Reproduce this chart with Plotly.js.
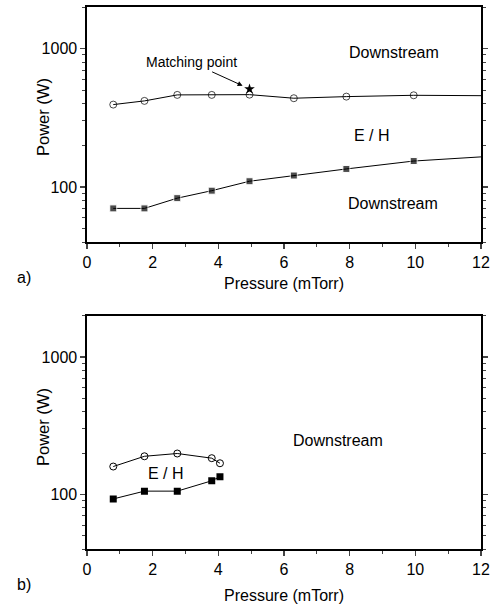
<!DOCTYPE html>
<html><head><meta charset="utf-8">
<script src="https://cdn.plot.ly/plotly-3.0.1.min.js"></script>
<style>html,body{margin:0;padding:0;background:#fff}</style>
</head><body><div id="chart" style="width:492px;height:609px"></div>
<script>
// (a) upper boundary (open circles) - last point is line end without marker
const aPressOpen = [0.8, 1.75, 2.75, 3.8, 4.95, 6.3, 7.9, 9.95, 12];
const aPowerOpen = [394, 419, 463, 463, 465, 438, 450, 460, 457];
// (a) lower boundary (filled squares)
const aPressFill = [0.8, 1.75, 2.75, 3.8, 4.95, 6.3, 7.9, 9.95, 12];
const aPowerFill = [70, 70, 83, 94, 110, 121, 135, 154, 165];
// matching point
const matchX = [4.95];
const matchY = [510];
// (b)
const bPressOpen = [0.8, 1.75, 2.75, 3.8, 4.05];
const bPowerOpen = [160, 190, 199, 184, 169];
const bPressFill = [0.8, 1.75, 2.75, 3.8, 4.05];
const bPowerFill = [93, 106, 106, 126, 135];

const yTicks = [100, 1000];
const yTickText = ["100", "1000"];
const yMinor = [40,50,60,70,80,90,200,300,400,500,600,700,800,900,2000];

const FONT = "Liberation Sans, Arial, sans-serif";
const markerSizes = (arr, s, lastNone) => arr.map((v,i)=> (lastNone && i===arr.length-1) ? 0 : s);

const traces = [
  {x:aPressOpen, y:aPowerOpen, xaxis:'x', yaxis:'y', mode:'lines+markers',
   line:{color:'#000', width:1},
   marker:{symbol:'circle-open', size:markerSizes(aPressOpen,7,true), color:'#000', line:{width:1}}},
  {x:aPressFill, y:aPowerFill, xaxis:'x', yaxis:'y', mode:'lines+markers',
   line:{color:'#000', width:1},
   marker:{symbol:'square', size:markerSizes(aPressFill,7,true), color:'#000'}},
  {x:matchX, y:matchY, xaxis:'x', yaxis:'y', mode:'markers',
   marker:{symbol:'star', size:8, color:'#000'}},
  {x:bPressOpen, y:bPowerOpen, xaxis:'x2', yaxis:'y2', mode:'lines+markers',
   line:{color:'#000', width:1},
   marker:{symbol:'circle-open', size:7, color:'#000', line:{width:1}}},
  {x:bPressFill, y:bPowerFill, xaxis:'x2', yaxis:'y2', mode:'lines+markers',
   line:{color:'#000', width:1},
   marker:{symbol:'square', size:7, color:'#000'}}
];

const xAxisBase = (anchor) => ({
  domain:[0.1768, 0.9776], range:[0,12], anchor:anchor,
  tickvals:[0,2,4,6,8,10,12], ticks:'outside', ticklen:5, tickwidth:1.2,
  minor:{tickvals:[1,3,5,7,9,11], ticks:'outside', ticklen:3, tickwidth:1, showgrid:false},
  showline:true, linewidth:1.6, linecolor:'#000', mirror:true,
  showgrid:false, zeroline:false, automargin:false,
  tickfont:{family:FONT, size:16, color:'#000'}
});
const yAxisBase = (anchor, dom) => ({
  domain:dom, type:'log', range:[Math.log10(40), Math.log10(2000)], anchor:anchor,
  tickvals:yTicks, ticktext:yTickText, ticks:'outside', ticklen:5, tickwidth:1.2,
  minor:{tickvals:yMinor, ticks:'outside', ticklen:3, tickwidth:1, showgrid:false},
  showline:true, linewidth:1.6, linecolor:'#000', mirror:'ticks',
  showgrid:false, zeroline:false, automargin:false,
  tickfont:{family:FONT, size:16, color:'#000'}
});

const txt = (s, x, y, xref, yref, size) => ({text:s, x:x, y:y, xref:xref, yref:yref,
  xanchor:'center', yanchor:'middle',
  showarrow:false, font:{family:FONT, size:size||16, color:'#000'}});
const ptxt = (s, x, y, xa, size) => ({text:s, x:x, y:y, xref:'paper', yref:'paper',
  xanchor:xa||'center', yanchor:'middle',
  showarrow:false, font:{family:FONT, size:size||16, color:'#000'}});

const layout = {
  width:492, height:609, margin:{l:0, r:0, t:0, b:0},
  paper_bgcolor:'#fff', plot_bgcolor:'#fff', showlegend:false,
  font:{family:FONT, color:'#000'},
  xaxis: xAxisBase('y'),
  yaxis: yAxisBase('x', [0.6026, 0.9885]),
  xaxis2: xAxisBase('y2'),
  yaxis2: yAxisBase('x2', [0.098, 0.4816]),
  annotations:[
    txt('Downstream', 9.35, Math.log10(940), 'x', 'y'),
    txt('E / H', 8.67, Math.log10(237), 'x', 'y'),
    txt('Downstream', 9.32, Math.log10(76), 'x', 'y'),
    {text:'Matching point', x:4.85, y:Math.log10(525), xref:'x', yref:'y',
     showarrow:true, arrowhead:2, arrowsize:1, arrowwidth:1, arrowcolor:'#000',
     ax:-55, ay:-25, standoff:4, font:{family:FONT, size:14, color:'#000'}},
    txt('Downstream', 7.65, Math.log10(246), 'x2', 'y2'),
    txt('E / H', 2.4, Math.log10(142), 'x2', 'y2'),
    ptxt('Pressure (mTorr)', 284/492, 1-283/609),
    ptxt('Pressure (mTorr)', 284/492, 1-595/609),
    {text:'Power (W)', x:43/492, y:1-117/609, xref:'paper', yref:'paper', showarrow:false,
     xanchor:'center', yanchor:'middle',
     textangle:-90, font:{family:FONT, size:16.5, color:'#000'}},
    {text:'Power (W)', x:43/492, y:1-427/609, xref:'paper', yref:'paper', showarrow:false,
     xanchor:'center', yanchor:'middle',
     textangle:-90, font:{family:FONT, size:16.5, color:'#000'}},
    ptxt('a)', 15/492, 1-277/609, 'left'),
    ptxt('b)', 15/492, 1-584/609, 'left')
  ]
};

Plotly.newPlot('chart', traces, layout, {staticPlot:true, displayModeBar:false});
</script></body></html>
